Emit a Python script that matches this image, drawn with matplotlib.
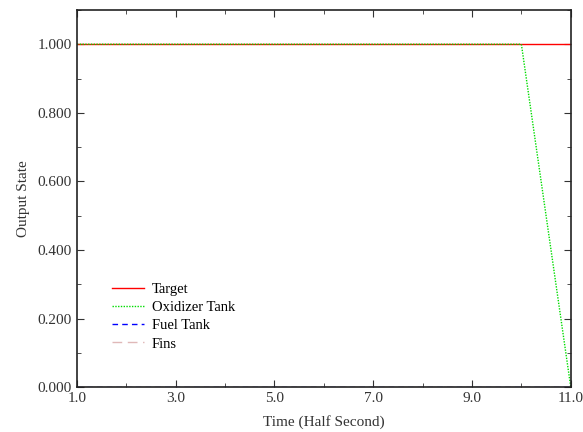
import numpy as np
import matplotlib
matplotlib.use("Agg")
import matplotlib.pyplot as plt
from matplotlib.ticker import MultipleLocator

plt.rcParams['font.family'] = ['Liberation Serif', 'DejaVu Serif']

time = [1, 2, 3, 4, 5, 6, 7, 8, 9, 10, 11]
target = [1, 1, 1, 1, 1, 1, 1, 1, 1, 1, 1]
oxidizer = [1, 1, 1, 1, 1, 1, 1, 1, 1, 1, 0]
fuel = [0, 0, 0, 0, 0, 0, 0, 0, 0, 0, 0]
fins = [0, 0, 0, 0, 0, 0, 0, 0, 0, 0, 0]

fig = plt.figure(figsize=(5.83, 4.32), dpi=100)
ax = fig.add_axes([0.132, 0.104, 0.847, 0.873])

ax.plot(time, target, color="#ff0000", lw=1.0, label="Target")
ax.plot(time, oxidizer, color="#00dd00", lw=1.0, ls=(0, (1, 1)), label="Oxidizer Tank")
ax.plot(time, fuel, color="#0000ff", lw=1.0, ls=(0, (4, 3)), label="Fuel Tank")
ax.plot(time, fins, color="#e0b8b8", lw=1.0, ls=(0, (7, 4)), label="Fins")

ax.set_xlim(1, 11)
ax.set_ylim(0, 1.1)
ax.set_xticks(np.arange(1, 12, 2))
ax.set_xticks(np.arange(2, 11, 2), minor=True)
ax.yaxis.set_major_locator(MultipleLocator(0.2))
ax.yaxis.set_minor_locator(MultipleLocator(0.1))
ax.xaxis.set_major_formatter(plt.FormatStrFormatter("%.1f"))
ax.yaxis.set_major_formatter(plt.FormatStrFormatter("%.3f"))
ax.tick_params(which="both", direction="in", top=True, right=True, labelsize=11, colors="#333333")
ax.tick_params(which="major", length=5)
ax.tick_params(which="minor", length=3)
for s in ax.spines.values():
    s.set_color("#222222")
    s.set_linewidth(1.2)

ax.set_xlabel("Time (Half Second)", fontsize=11, color="#333333", labelpad=7)
ax.set_ylabel("Output State", fontsize=11, color="#333333", labelpad=6)

ax.legend(loc="lower left", bbox_to_anchor=(0.045, 0.062), frameon=False, fontsize=10.5,
          handlelength=2.2, handletextpad=0.5, labelspacing=0.35)

fig.savefig("out.png", dpi=100)
